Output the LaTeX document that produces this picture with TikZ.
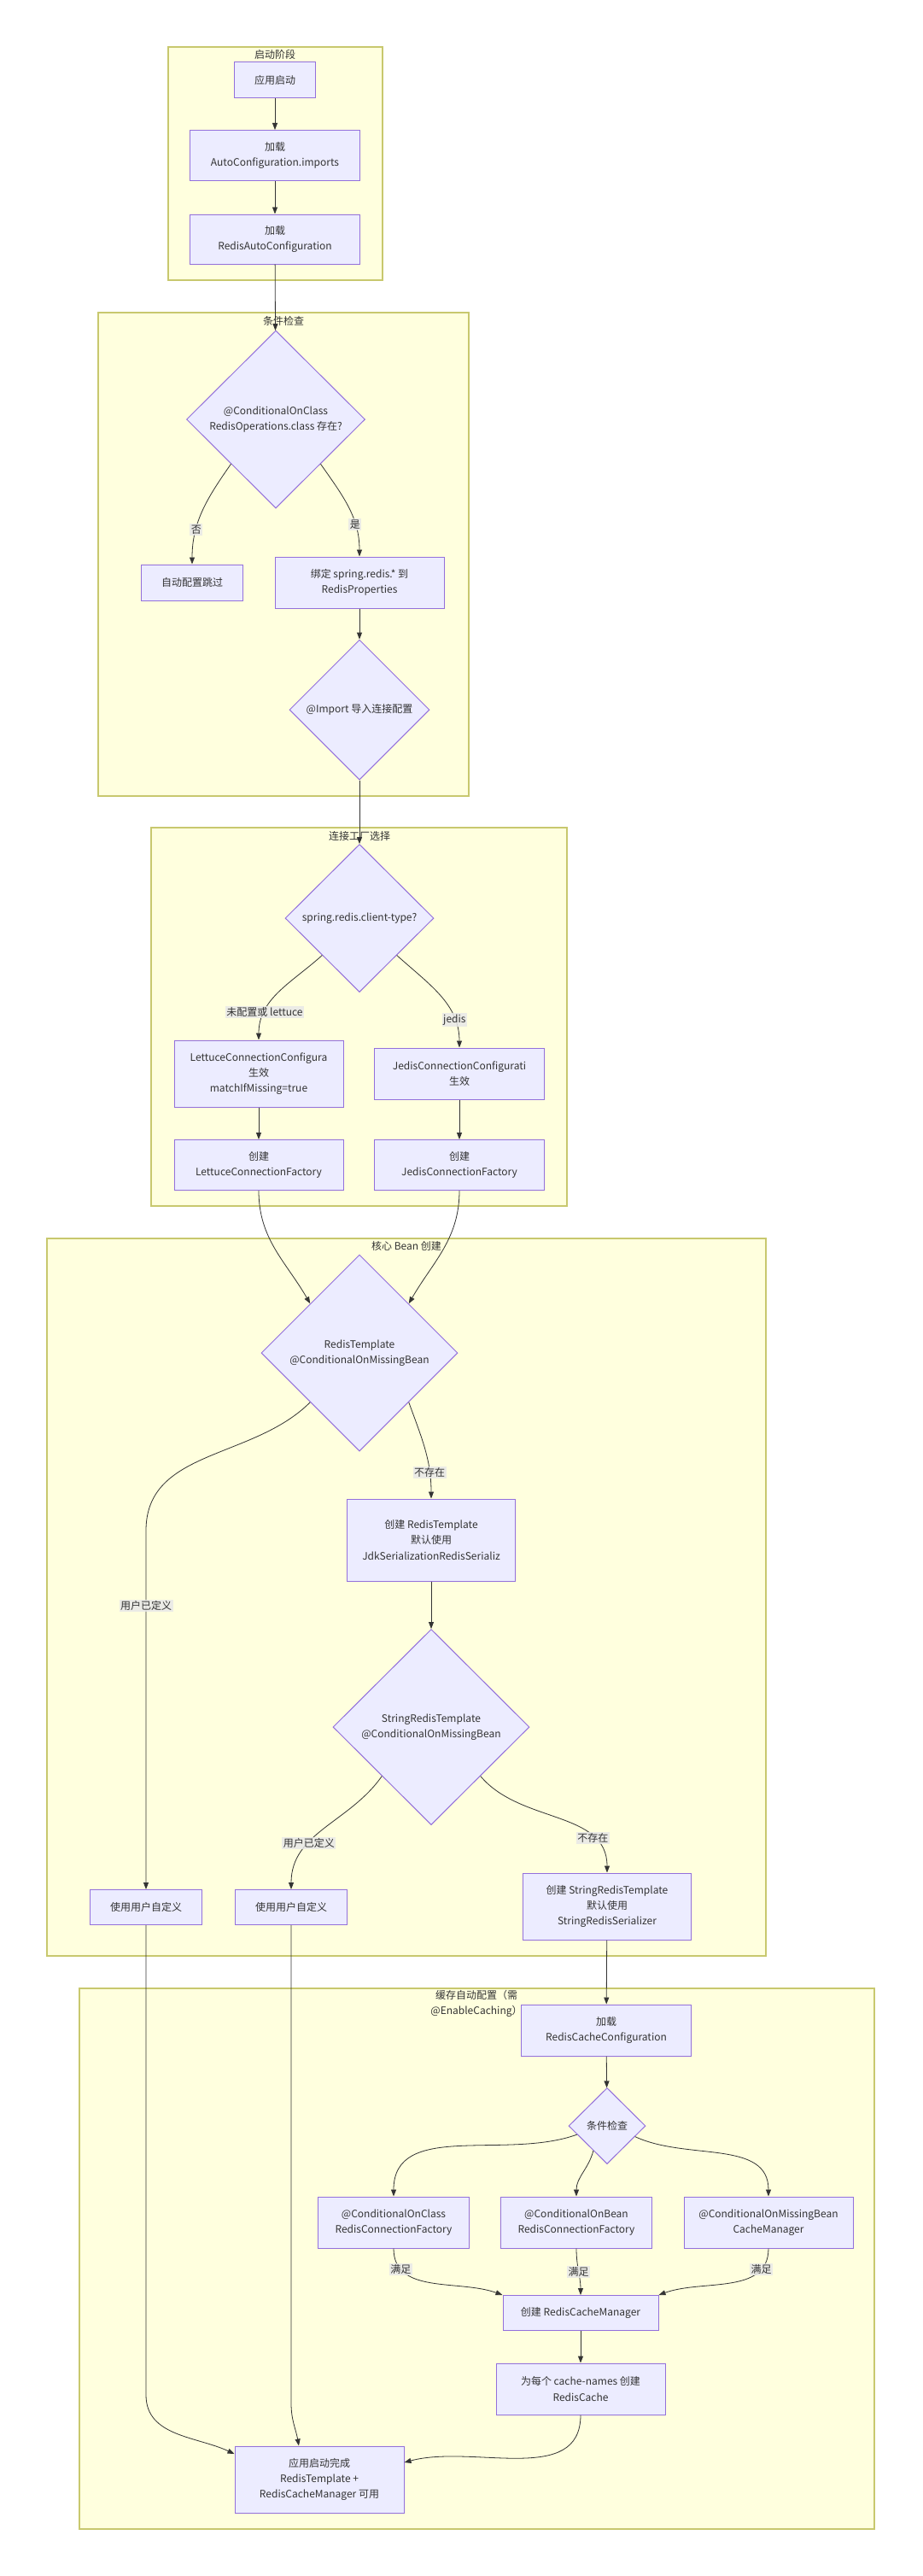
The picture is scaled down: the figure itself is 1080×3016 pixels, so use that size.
\documentclass[tikz,border=0pt]{standalone}
\usepackage{fontspec}
\setmainfont{Noto Sans CJK SC}
\usepackage{tikz}
\usetikzlibrary{arrows.meta,shapes.geometric,calc}

\definecolor{nodefill}{HTML}{ECECFF}
\definecolor{nodeline}{HTML}{9370DB}
\definecolor{groupfill}{HTML}{FFFFDE}
\definecolor{groupline}{HTML}{C8C86E}
\definecolor{ink}{HTML}{333333}
\definecolor{labelfill}{HTML}{E8E8E8}

\tikzset{
  every node/.style={text=ink, font=\fontsize{12}{18.3}\selectfont},
  box/.style={draw=nodeline, fill=nodefill, line width=1pt, align=center, inner sep=2pt},
  choice/.style={diamond, aspect=1, draw=nodeline, fill=nodefill, line width=1pt, align=center, inner sep=0pt},
  group/.style={draw=groupline, fill=groupfill, line width=1.2pt},
  grouptitle/.style={align=center, inner sep=0pt},
  flow/.style={draw=ink, line width=0.8pt, -{Triangle[length=8pt,width=6pt]}},
  lbl/.style={fill=labelfill, fill opacity=0.85, text opacity=1, inner sep=1.5pt},
}

\begin{document}
\begin{tikzpicture}[x=1pt,y=-1pt]
\path[fill=white,use as bounding box] (0,0) rectangle (1080,3016);

\draw[group] (197,55) rectangle (448,328);
\node[grouptitle] (t1) at (322,64) {启动阶段};
\draw[group] (115,366) rectangle (549,932);
\node[grouptitle] (t2) at (332,376) {条件检查};
\draw[group] (177,969) rectangle (664,1412);
\node[grouptitle] (t3) at (421,979) {连接工厂选择};
\draw[group] (55,1450) rectangle (897,2290);
\node[grouptitle] (t4) at (476,1459) {核心 Bean 创建};
\draw[group] (93,2328) rectangle (1024,2961);
\node[grouptitle] (t5) at (558,2346) {缓存自动配置（需\\@EnableCaching）};

\node[box, minimum width=95pt, minimum height=42pt] (start) at (322,94) {应用启动};
\node[box, minimum width=199pt, minimum height=59pt] (loadimp) at (322,182) {加载\\AutoConfiguration.imports};
\node[box, minimum width=199pt, minimum height=58pt] (loadauto) at (322,280) {加载\\RedisAutoConfiguration};

\node[choice, minimum width=209pt, minimum height=208pt] (cls) at (323,491) {@ConditionalOnClass\\RedisOperations.class 存在?};
\node[box, minimum width=119pt, minimum height=42pt] (skip) at (225,682) {自动配置跳过};
\node[box, minimum width=198pt, minimum height=60pt] (bind) at (421,682) {绑定 spring.redis.* 到\\RedisProperties};
\node[choice, minimum width=164pt, minimum height=164pt] (imp) at (421,831) {@Import 导入连接配置};

\node[choice, minimum width=174pt, minimum height=173pt] (ctype) at (421,1075) {spring.redis.client-type?};
\node[box, minimum width=198pt, minimum height=78pt] (lcfg) at (303,1257) {LettuceConnectionConfigura\\生效\\matchIfMissing=true};
\node[box, minimum width=199pt, minimum height=60pt] (jcfg) at (538,1257) {JedisConnectionConfigurati\\生效};
\node[box, minimum width=198pt, minimum height=59pt] (lfac) at (303,1364) {创建\\LettuceConnectionFactory};
\node[box, minimum width=199pt, minimum height=59pt] (jfac) at (538,1364) {创建\\JedisConnectionFactory};

\node[choice, minimum width=230pt, minimum height=230pt] (rt) at (421,1584) {RedisTemplate\\@ConditionalOnMissingBean};
\node[box, minimum width=197pt, minimum height=96pt] (rtnew) at (505,1803) {创建 RedisTemplate\\默认使用\\JdkSerializationRedisSerializ};
\node[choice, minimum width=230pt, minimum height=229pt] (srt) at (505,2022) {StringRedisTemplate\\@ConditionalOnMissingBean};
\node[box, minimum width=131pt, minimum height=41pt] (own1) at (171,2233) {使用用户自定义};
\node[box, minimum width=131pt, minimum height=41pt] (own2) at (341,2233) {使用用户自定义};
\node[box, minimum width=197pt, minimum height=78pt] (srtnew) at (711,2232) {创建 StringRedisTemplate\\默认使用\\StringRedisSerializer};

\node[box, minimum width=199pt, minimum height=60pt] (ldcache) at (710,2377) {加载\\RedisCacheConfiguration};
\node[choice, minimum width=90pt, minimum height=89pt] (chk) at (711,2489) {条件检查};
\node[box, minimum width=177pt, minimum height=60pt] (c1) at (461,2602) {@ConditionalOnClass\\RedisConnectionFactory};
\node[box, minimum width=177pt, minimum height=60pt] (c2) at (675,2602) {@ConditionalOnBean\\RedisConnectionFactory};
\node[box, minimum width=198pt, minimum height=60pt] (c3) at (900,2602) {@ConditionalOnMissingBean\\CacheManager};
\node[box, minimum width=182pt, minimum height=41pt] (rcm) at (680,2708) {创建 RedisCacheManager};
\node[box, minimum width=198pt, minimum height=60pt] (cache) at (680,2797) {为每个 cache-names 创建\\RedisCache};
\node[box, minimum width=198pt, minimum height=78pt] (done) at (374,2903) {应用启动完成\\RedisTemplate +\\RedisCacheManager 可用};

\draw[flow] (start) -- (loadimp);
\draw[flow] (loadimp) -- (loadauto);
\draw[flow] (loadauto) -- (cls);
\draw[flow] (cls.south west) to[out=-125,in=90] node[lbl,pos=0.69]{否} (skip.north);
\draw[flow] (cls.south east) to[out=-55,in=90] node[lbl,pos=0.69]{是} (bind.north);
\draw[flow] (bind) -- (imp);
\draw[flow] (imp) -- (ctype);
\draw[flow] (ctype.south west) to[out=-138,in=90] node[lbl,pos=0.74]{未配置或 lettuce} (lcfg.north);
\draw[flow] (ctype.south east) to[out=-42,in=90] node[lbl,pos=0.76]{jedis} (jcfg.north);
\draw[flow] (lcfg) -- (lfac);
\draw[flow] (jcfg) -- (jfac);
\draw[flow] (lfac.south) to[out=-90,in=120] (rt.north west);
\draw[flow] (jfac.south) to[out=-90,in=60] (rt.north east);
\draw[flow] (rt.south west) to[out=-135,in=90] ($(own1.north)+(0,-420)$) -- node[lbl,pos=0.21]{用户已定义} (own1.north);
\draw[flow] (rt.south east) to[out=-70,in=90] node[lbl,pos=0.75]{不存在} (rtnew.north);
\draw[flow] (rtnew) -- (srt);
\draw[flow] (srt.south west) to[out=-125,in=90] node[lbl,pos=0.65]{用户已定义} (own2.north);
\draw[flow] (srt.south east) to[out=-50,in=90] node[lbl,pos=0.75]{不存在} (srtnew.north);
\draw[flow] (srtnew) -- (ldcache);
\draw[flow] (ldcache) -- (chk);
\draw[flow] (chk.196) to[out=-160,in=90] (c1.north);
\draw[flow] (chk.241) to[out=-105,in=90] (c2.north);
\draw[flow] (chk.-21) to[out=-25,in=90] (c3.north);
\draw[flow] (c1.south) to[out=-90,in=160] node[lbl,pos=0.2]{满足} (rcm.north west);
\draw[flow] (c2.south) to[out=-90,in=90] node[lbl,pos=0.5]{满足} (rcm.north);
\draw[flow] (c3.south) to[out=-90,in=20] node[lbl,pos=0.2]{满足} (rcm.north east);
\draw[flow] (rcm) -- (cache);
\draw[flow] (own1.south) -- ($(own1.south)+(0,550)$) to[out=-90,in=155] ([yshift=30pt]done.west);
\draw[flow] (own2.south) -- ($(own2.south)+(0,560)$) to[out=-90,in=100] ([xshift=-24pt]done.north);
\draw[flow] (cache.south) to[out=-90,in=15] ([yshift=20pt]done.east);
\end{tikzpicture}
\end{document}
